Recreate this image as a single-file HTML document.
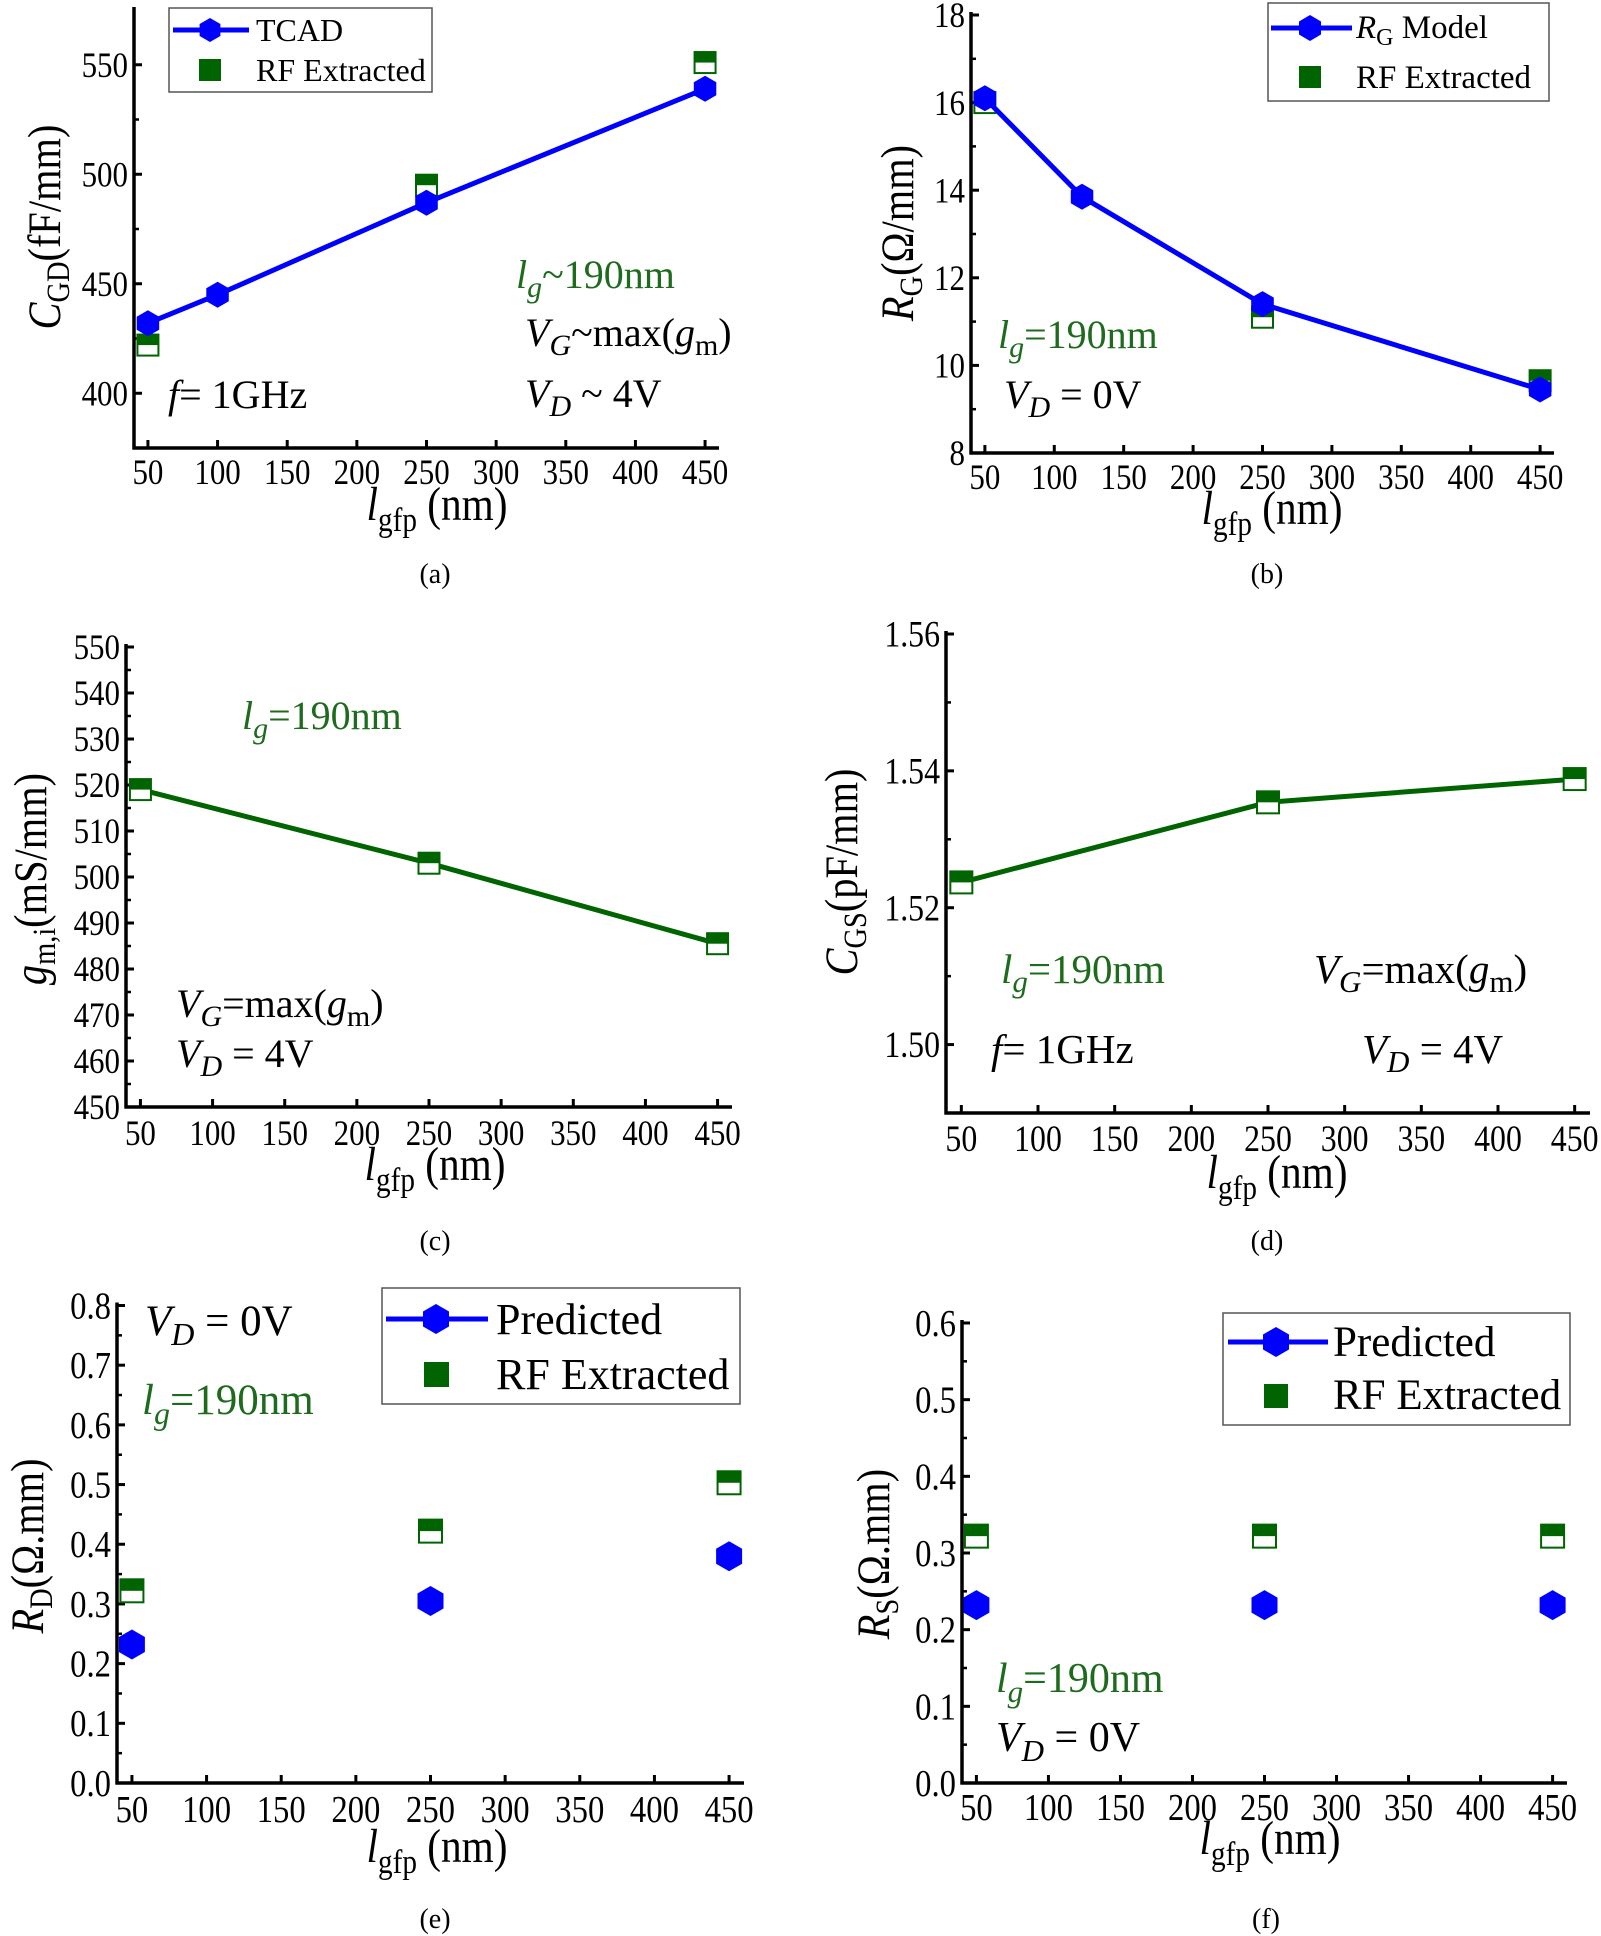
<!DOCTYPE html>
<html><head><meta charset="utf-8">
<style>
html,body{margin:0;padding:0;background:#fff;}
svg{display:block;font-family:"Liberation Serif","DejaVu Serif",serif;}
</style></head>
<body>
<svg id="chart" width="1601" height="1936" viewBox="0 0 1601 1936" xmlns="http://www.w3.org/2000/svg">
<rect x="0" y="0" width="1601" height="1936" fill="#fff"/>
<g id="marks"></g>

<!-- Panel captions -->
<text x="435" y="583" font-size="28" text-anchor="middle">(a)</text>
<text x="1267" y="583" font-size="28" text-anchor="middle">(b)</text>
<text x="435" y="1250" font-size="28" text-anchor="middle">(c)</text>
<text x="1267" y="1250" font-size="28" text-anchor="middle">(d)</text>
<text x="435" y="1928" font-size="28" text-anchor="middle">(e)</text>
<text x="1266" y="1928" font-size="28" text-anchor="middle">(f)</text>

<!-- X axis titles -->
<text class="cx" x="437" y="520" font-size="48" text-anchor="middle"><tspan font-style="italic">l</tspan><tspan font-size="34" dy="11">gfp</tspan><tspan dy="-11"> (nm)</tspan></text>
<text class="cx" x="1272" y="524" font-size="48" text-anchor="middle"><tspan font-style="italic">l</tspan><tspan font-size="34" dy="11">gfp</tspan><tspan dy="-11"> (nm)</tspan></text>
<text class="cx" x="435" y="1180" font-size="48" text-anchor="middle"><tspan font-style="italic">l</tspan><tspan font-size="34" dy="11">gfp</tspan><tspan dy="-11"> (nm)</tspan></text>
<text class="cx" x="1277" y="1188" font-size="48" text-anchor="middle"><tspan font-style="italic">l</tspan><tspan font-size="34" dy="11">gfp</tspan><tspan dy="-11"> (nm)</tspan></text>
<text class="cx" x="437" y="1862" font-size="48" text-anchor="middle"><tspan font-style="italic">l</tspan><tspan font-size="34" dy="11">gfp</tspan><tspan dy="-11"> (nm)</tspan></text>
<text class="cx" x="1270" y="1854" font-size="48" text-anchor="middle"><tspan font-style="italic">l</tspan><tspan font-size="34" dy="11">gfp</tspan><tspan dy="-11"> (nm)</tspan></text>

<!-- Y axis titles -->
<text class="cx" transform="translate(60,227) rotate(-90)" font-size="47" text-anchor="middle"><tspan font-style="italic">C</tspan><tspan font-size="33" dy="9">GD</tspan><tspan dy="-9">(fF/mm)</tspan></text>
<text class="cx" transform="translate(913,233) rotate(-90)" font-size="47" text-anchor="middle"><tspan font-style="italic">R</tspan><tspan font-size="33" dy="9">G</tspan><tspan dy="-9">(Ω/mm)</tspan></text>
<text class="cx" transform="translate(46,879) rotate(-90)" font-size="47" text-anchor="middle"><tspan font-style="italic">g</tspan><tspan font-size="33" dy="9">m,i</tspan><tspan dy="-9">(mS/mm)</tspan></text>
<text class="cx" transform="translate(857,872) rotate(-90)" font-size="47" text-anchor="middle"><tspan font-style="italic">C</tspan><tspan font-size="33" dy="9">GS</tspan><tspan dy="-9">(pF/mm)</tspan></text>
<text class="cx" transform="translate(43,1546) rotate(-90)" font-size="47" text-anchor="middle"><tspan font-style="italic">R</tspan><tspan font-size="33" dy="9">D</tspan><tspan dy="-9">(Ω.mm)</tspan></text>
<text class="cx" transform="translate(889,1554) rotate(-90)" font-size="47" text-anchor="middle"><tspan font-style="italic">R</tspan><tspan font-size="33" dy="9">S</tspan><tspan dy="-9">(Ω.mm)</tspan></text>

<!-- Annotations -->
<text x="516" y="288" font-size="40" fill="#1e6b1e"><tspan font-style="italic">l</tspan><tspan font-style="italic" font-size="30" dy="9">g</tspan><tspan dy="-9">~190nm</tspan></text>
<text x="525" y="346" font-size="40"><tspan font-style="italic">V</tspan><tspan font-style="italic" font-size="30" dy="9">G</tspan><tspan dy="-9">~max(</tspan><tspan font-style="italic">g</tspan><tspan font-size="30" dy="9">m</tspan><tspan dy="-9">)</tspan></text>
<text x="525" y="407" font-size="40"><tspan font-style="italic">V</tspan><tspan font-style="italic" font-size="30" dy="9">D</tspan><tspan dy="-9"> ~ 4V</tspan></text>
<text x="168" y="408" font-size="40"><tspan font-style="italic">f</tspan>= 1GHz</text>

<text x="998" y="348" font-size="40" fill="#1e6b1e"><tspan font-style="italic">l</tspan><tspan font-style="italic" font-size="30" dy="9">g</tspan><tspan dy="-9">=190nm</tspan></text>
<text x="1004" y="408" font-size="40"><tspan font-style="italic">V</tspan><tspan font-style="italic" font-size="30" dy="9">D</tspan><tspan dy="-9"> = 0V</tspan></text>

<text x="242" y="729" font-size="40" fill="#1e6b1e"><tspan font-style="italic">l</tspan><tspan font-style="italic" font-size="30" dy="9">g</tspan><tspan dy="-9">=190nm</tspan></text>
<text x="176" y="1017" font-size="40"><tspan font-style="italic">V</tspan><tspan font-style="italic" font-size="30" dy="9">G</tspan><tspan dy="-9">=max(</tspan><tspan font-style="italic">g</tspan><tspan font-size="30" dy="9">m</tspan><tspan dy="-9">)</tspan></text>
<text x="176" y="1067" font-size="40"><tspan font-style="italic">V</tspan><tspan font-style="italic" font-size="30" dy="9">D</tspan><tspan dy="-9"> = 4V</tspan></text>

<text x="1001" y="983" font-size="41" fill="#1e6b1e"><tspan font-style="italic">l</tspan><tspan font-style="italic" font-size="31" dy="9">g</tspan><tspan dy="-9">=190nm</tspan></text>
<text x="1314" y="983" font-size="41"><tspan font-style="italic">V</tspan><tspan font-style="italic" font-size="31" dy="9">G</tspan><tspan dy="-9">=max(</tspan><tspan font-style="italic">g</tspan><tspan font-size="31" dy="9">m</tspan><tspan dy="-9">)</tspan></text>
<text x="991" y="1063" font-size="41"><tspan font-style="italic">f</tspan>= 1GHz</text>
<text x="1362" y="1063" font-size="41"><tspan font-style="italic">V</tspan><tspan font-style="italic" font-size="31" dy="9">D</tspan><tspan dy="-9"> = 4V</tspan></text>

<text x="145" y="1335" font-size="43"><tspan font-style="italic">V</tspan><tspan font-style="italic" font-size="32" dy="10">D</tspan><tspan dy="-10"> = 0V</tspan></text>
<text x="142" y="1414" font-size="43" fill="#1e6b1e"><tspan font-style="italic">l</tspan><tspan font-style="italic" font-size="32" dy="10">g</tspan><tspan dy="-10">=190nm</tspan></text>

<text x="996" y="1692" font-size="42" fill="#1e6b1e"><tspan font-style="italic">l</tspan><tspan font-style="italic" font-size="31" dy="10">g</tspan><tspan dy="-10">=190nm</tspan></text>
<text x="996" y="1751" font-size="42"><tspan font-style="italic">V</tspan><tspan font-style="italic" font-size="31" dy="10">D</tspan><tspan dy="-10"> = 0V</tspan></text>

<!-- Legends -->
<g>
<rect x="169" y="8" width="263" height="84" fill="#fff" stroke="#555" stroke-width="1.5"/>
<line x1="173" y1="30" x2="249" y2="30" stroke="#0000ff" stroke-width="5"/>
<polygon points="210,18 220.4,24 220.4,36 210,42 199.6,36 199.6,24" fill="#0000ff"/>
<text x="256" y="41" font-size="32">TCAD</text>
<rect x="199" y="59" width="22" height="22" fill="#006400"/>
<text x="256" y="81" font-size="32">RF Extracted</text>
</g>
<g>
<rect x="1268" y="3" width="281" height="98" fill="#fff" stroke="#555" stroke-width="1.5"/>
<line x1="1271" y1="28" x2="1352" y2="28" stroke="#0000ff" stroke-width="5"/>
<polygon points="1310,15 1321,21.5 1321,34.5 1310,41 1299,34.5 1299,21.5" fill="#0000ff"/>
<text x="1356" y="38" font-size="33"><tspan font-style="italic">R</tspan><tspan font-size="24" dy="7">G</tspan><tspan dy="-7"> Model</tspan></text>
<rect x="1299" y="66" width="22" height="22" fill="#006400"/>
<text x="1356" y="88" font-size="33">RF Extracted</text>
</g>
<g>
<rect x="382" y="1288" width="358" height="116" fill="#fff" stroke="#555" stroke-width="1.5"/>
<line x1="386" y1="1319" x2="488" y2="1319" stroke="#0000ff" stroke-width="5"/>
<polygon points="436,1304 449,1311.5 449,1326.5 436,1334 423,1326.5 423,1311.5" fill="#0000ff"/>
<text x="496" y="1334" font-size="44">Predicted</text>
<rect x="424" y="1362" width="25" height="25" fill="#006400"/>
<text x="496" y="1389" font-size="44">RF Extracted</text>
</g>
<g>
<rect x="1223" y="1313" width="347" height="112" fill="#fff" stroke="#555" stroke-width="1.5"/>
<line x1="1228" y1="1342" x2="1328" y2="1342" stroke="#0000ff" stroke-width="5"/>
<polygon points="1276,1327 1289,1334.5 1289,1349.5 1276,1357 1263,1349.5 1263,1334.5" fill="#0000ff"/>
<text x="1333" y="1356" font-size="43">Predicted</text>
<rect x="1264" y="1384" width="24" height="24" fill="#006400"/>
<text x="1333" y="1409" font-size="43">RF Extracted</text>
</g>
</svg>

<script>
// ---------- data ----------
const xTicks = [50, 100, 150, 200, 250, 300, 350, 400, 450];

const tcadX_a = [50, 100, 250, 450];
const tcad_a = [432, 445, 487, 539];
const rfX_a = [50, 250, 450];
const rf_a = [422, 495, 551];
const yTicks_a = [400, 450, 500, 550];
const yTickLabels_a = ["400", "450", "500", "550"];

const modelX_b = [50, 120, 250, 450];
const model_b = [16.1, 13.85, 11.4, 9.45];
const rfX_b = [50, 250, 450];
const rf_b = [16.0, 11.1, 9.65];
const yTicks_b = [8, 10, 12, 14, 16, 18];
const yTickLabels_b = ["8", "10", "12", "14", "16", "18"];

const rfX_c = [50, 250, 450];
const gm_c = [519, 503, 485.5];
const yTicks_c = [450, 460, 470, 480, 490, 500, 510, 520, 530, 540, 550];
const yTickLabels_c = ["450", "460", "470", "480", "490", "500", "510", "520", "530", "540", "550"];

const rfX_d = [50, 250, 450];
const cgs_d = [1.5237, 1.5354, 1.5388];
const yTicks_d = [1.50, 1.52, 1.54, 1.56];
const yTickLabels_d = ["1.50", "1.52", "1.54", "1.56"];

const predX_e = [50, 250, 450];
const pred_e = [0.232, 0.305, 0.38];
const rf_e = [0.322, 0.422, 0.503];
const yTicks_e = [0, 0.1, 0.2, 0.3, 0.4, 0.5, 0.6, 0.7, 0.8];
const yTickLabels_e = ["0.0", "0.1", "0.2", "0.3", "0.4", "0.5", "0.6", "0.7", "0.8"];

const predX_f = [50, 250, 450];
const pred_f = [0.232, 0.232, 0.232];
const rf_f = [0.322, 0.322, 0.322];
const yTicks_f = [0, 0.1, 0.2, 0.3, 0.4, 0.5, 0.6];
const yTickLabels_f = ["0.0", "0.1", "0.2", "0.3", "0.4", "0.5", "0.6"];

// ---------- drawing ----------
const NS = "http://www.w3.org/2000/svg";
const root = document.getElementById("marks");
const BLUE = "#0000ff", GREEN = "#006400";
const CX = 0.86;

function mk(tag, attrs, parent) {
  const e = document.createElementNS(NS, tag);
  for (const k in attrs) e.setAttribute(k, attrs[k]);
  (parent || root).appendChild(e);
  return e;
}

function makeAxes(p) {
  const sx = v => p.px0 + (v - p.xmin) / (p.xmax - p.xmin) * (p.px1 - p.px0);
  const sy = v => p.py0 - (v - p.ymin) / (p.ymax - p.ymin) * (p.py0 - p.py1);
  const g = mk("g", {});
  
  
  const ya = mk("line", {x1: p.px0, y1: p.py0 + 1.5, x2: p.px0, y2: p.py1 - 3, stroke: "#000", "stroke-width": 3.5}, g);
  
  
  const xa = mk("line", {x1: p.px0 - 1.5, y1: p.py0, x2: p.px1, y2: p.py0, stroke: "#000", "stroke-width": 3.5}, g);
  
  
  xTicks.forEach(t => {
    const x = sx(t);
    mk("line", {x1: x, y1: p.py0, x2: x, y2: p.py0 - 8, stroke: "#000", "stroke-width": 3}, g);
    const tx = mk("text", {transform: "translate(" + x + "," + (p.py0 + p.xlabOff) + ") scale(" + CX + ",1)", "font-size": p.fs, "text-anchor": "middle"}, g);
    
    
    tx.textContent = String(t);
  });
  p.yTicks.forEach((t, i) => {
    const y = sy(t);
    mk("line", {x1: p.px0, y1: y, x2: p.px0 + 8, y2: y, stroke: "#000", "stroke-width": 3}, g);
    const tx = mk("text", {transform: "translate(" + (p.px0 - 6) + "," + (y + p.fs * 0.34) + ") scale(" + CX + ",1)", "font-size": p.fs, "text-anchor": "end"}, g);
    
    
    tx.textContent = p.yLabels[i];
    if (i < p.yTicks.length - 1) {
      const ym = sy((t + p.yTicks[i + 1]) / 2);
      mk("line", {x1: p.px0, y1: ym, x2: p.px0 + 5, y2: ym, stroke: "#000", "stroke-width": 2.5}, g);
    }
  });
  return {sx, sy, g};
}

function drawLine(ax, xs, ys, color, name) {
  const pts = xs.map((x, i) => ax.sx(x).toFixed(1) + "," + ax.sy(ys[i]).toFixed(1)).join(" ");
  const l = mk("polyline", {points: pts, fill: "none", stroke: color, "stroke-width": 5, "stroke-linejoin": "round"}, ax.g);
  
  
}

function drawHex(ax, xs, ys, r, name) {
  xs.forEach((x, i) => {
    const cx = ax.sx(x), cy = ax.sy(ys[i]);
    const w = r * 0.866;
    const pts = [[0, -r], [w, -r / 2], [w, r / 2], [0, r], [-w, r / 2], [-w, -r / 2]]
      .map(q => (cx + q[0]).toFixed(1) + "," + (cy + q[1]).toFixed(1)).join(" ");
    const h = mk("polygon", {points: pts, fill: BLUE}, ax.g);
    
    
  });
}

function drawHalfSq(ax, xs, ys, s, name) {
  xs.forEach((x, i) => {
    const cx = ax.sx(x), cy = ax.sy(ys[i]);
    const g = mk("g", {}, ax.g);
    
    
    mk("rect", {x: cx - s / 2, y: cy - s / 2, width: s, height: s, fill: "#fff", stroke: GREEN, "stroke-width": 2}, g);
    mk("rect", {x: cx - s / 2, y: cy - s / 2, width: s, height: s * 0.5, fill: GREEN}, g);
  });
}

// (a)
const axA = makeAxes({id: "a", px0: 134, px1: 719, py0: 448, py1: 10, xmin: 40, xmax: 460, ymin: 375, ymax: 575, yTicks: yTicks_a, yLabels: yTickLabels_a, fs: 36, xlabOff: 36});
drawHalfSq(axA, rfX_a, rf_a, 21, "rf-extracted-point");
drawLine(axA, tcadX_a, tcad_a, BLUE, "tcad-line");
drawHex(axA, tcadX_a, tcad_a, 13, "tcad-point");

// (b)
const axB = makeAxes({id: "b", px0: 971, px1: 1554, py0: 453, py1: 15, xmin: 40, xmax: 460, ymin: 8, ymax: 18, yTicks: yTicks_b, yLabels: yTickLabels_b, fs: 36, xlabOff: 36});
drawHalfSq(axB, rfX_b, rf_b, 21, "rf-extracted-point");
drawLine(axB, modelX_b, model_b, BLUE, "rg-model-line");
drawHex(axB, modelX_b, model_b, 13, "rg-model-point");

// (c)
const axC = makeAxes({id: "c", px0: 126, px1: 732, py0: 1107, py1: 647, xmin: 40, xmax: 460, ymin: 450, ymax: 550, yTicks: yTicks_c, yLabels: yTickLabels_c, fs: 36, xlabOff: 38});
drawLine(axC, rfX_c, gm_c, GREEN, "gm-line");
drawHalfSq(axC, rfX_c, gm_c, 21, "gm-point");

// (d)
const axD = makeAxes({id: "d", px0: 946, px1: 1590, py0: 1113, py1: 634, xmin: 40, xmax: 460, ymin: 1.49, ymax: 1.56, yTicks: yTicks_d, yLabels: yTickLabels_d, fs: 37, xlabOff: 38});
drawLine(axD, rfX_d, cgs_d, GREEN, "cgs-line");
drawHalfSq(axD, rfX_d, cgs_d, 22, "cgs-point");

// (e)
const axE = makeAxes({id: "e", px0: 117, px1: 744, py0: 1783, py1: 1305.5, xmin: 40, xmax: 460, ymin: 0, ymax: 0.8, yTicks: yTicks_e, yLabels: yTickLabels_e, fs: 38, xlabOff: 39});
drawHalfSq(axE, predX_e, rf_e, 23, "rf-extracted-point");
drawHex(axE, predX_e, pred_e, 15, "predicted-point");

// (f)
const axF = makeAxes({id: "f", px0: 962, px1: 1567, py0: 1783, py1: 1323, xmin: 40, xmax: 460, ymin: 0, ymax: 0.6, yTicks: yTicks_f, yLabels: yTickLabels_f, fs: 38, xlabOff: 37});
drawHalfSq(axF, predX_f, rf_f, 23, "rf-extracted-point");
drawHex(axF, predX_f, pred_f, 15, "predicted-point");

// horizontally condense axis titles (reference font is narrow/tall)
document.querySelectorAll("text.cx").forEach(t => {
  const tr = t.getAttribute("transform");
  if (tr) {
    t.setAttribute("transform", tr + " scale(" + CX + ",1)");
  } else {
    const x = t.getAttribute("x"), y = t.getAttribute("y");
    t.removeAttribute("x"); t.removeAttribute("y");
    t.setAttribute("transform", "translate(" + x + "," + y + ") scale(" + CX + ",1)");
  }
});
</script>
</body></html>
